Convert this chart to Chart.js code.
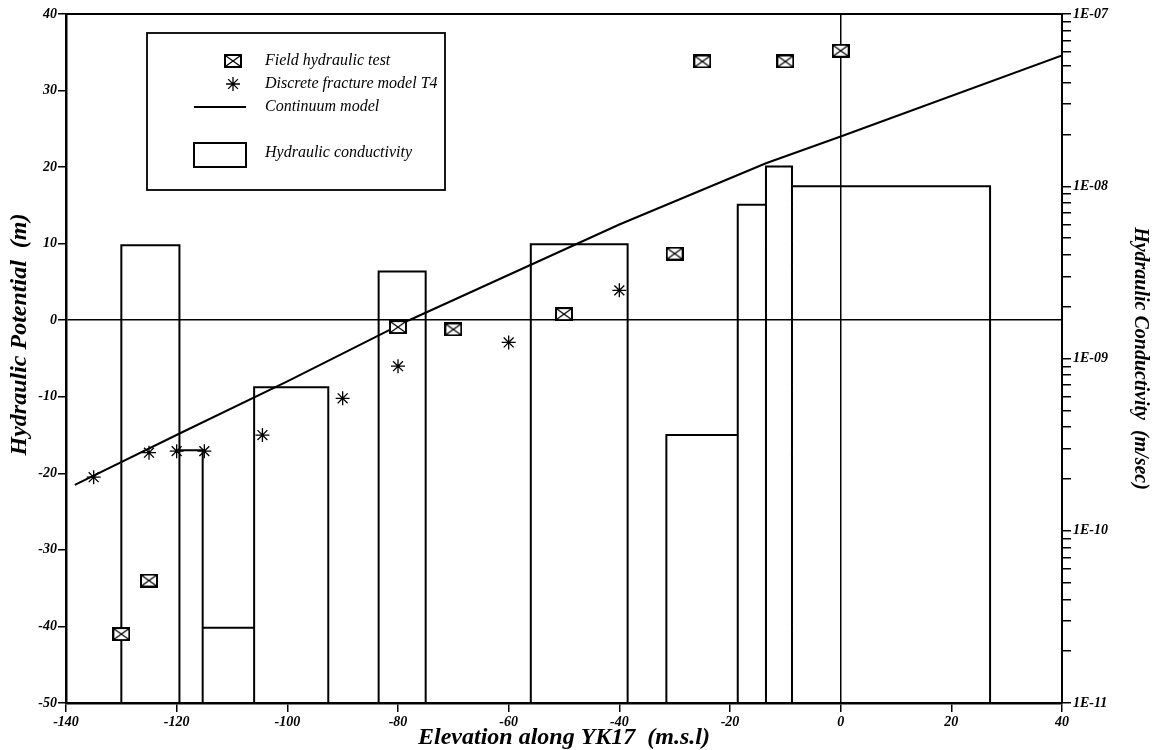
<!DOCTYPE html>
<html>
<head>
<meta charset="utf-8">
<script src="https://cdn.jsdelivr.net/npm/chart.js@4"></script>
<style>
	body{margin:0;background:#fff;}
	#wrap{width:1158px;height:750px;}
</style>
</head>
<body>
<div id="wrap"><canvas id="c" width="1158" height="750"></canvas></div>
<script>
// field hydraulic tests (boxes)
const fieldX=[-130,-125,-80,-70,-50,-30,-25,-10,0];
const fieldY=[-41,-34,-0.9,-1.2,0.8,8.7,33.8,33.8,35.2];

// discrete fracture model T4 (asterisks)
const dfmX=[-135,-125,-120,-115,-104.5,-90,-80,-60,-40];
const dfmY=[-20.5,-17.3,-17.1,-17.1,-15,-10.2,-6,-2.9,3.9];

// continuum model line
const contX=[-138.4,-119.2,-100,-78,-40,-13.5,0,40];
const contY=[-21.5,-14.7,-8,0,12.5,20.5,24,34.6];

// hydraulic conductivity intervals (m/sec) on the right log axis
const condLeft=[-130,-119.5,-115.3,-106,-83.5,-56,-31.5,-18.6,-13.5,-8.8];
const condRight=[-119.5,-115.3,-106,-92.6,-75,-38.5,-18.6,-13.5,-8.8,27];
const condK=[4.55e-9,2.93e-10,2.73e-11,6.8e-10,3.2e-9,4.6e-9,3.6e-10,7.8e-9,1.3e-8,1.0e-8];

const xTicks=[-140,-120,-100,-80,-60,-40,-20,0,20,40];
const kMin=1e-11, kMax=1e-7;

const serif="'Liberation Serif', 'DejaVu Serif', serif";

function boxMark(){
	let c=document.createElement('canvas');
	c.width=18;c.height=14;
	let g=c.getContext('2d');
	g.fillStyle='#fff';
	g.fillRect(1,1,16,12);
	g.strokeStyle='#000';
	g.lineWidth=2;
	g.strokeRect(1,1,16,12);
	g.lineWidth=1.3;
	g.beginPath();
	g.moveTo(2,2);g.lineTo(16,12);
	g.moveTo(16,2);g.lineTo(2,12);
	g.stroke();
	return c;
}
const box=boxMark();

// outline of each conductivity interval, broken by nulls
let condPts=[];
condK.forEach((k,i)=>{
	condPts.push({x:condLeft[i],y:kMin},{x:condLeft[i],y:k},{x:condRight[i],y:k},{x:condRight[i],y:kMin},{x:condRight[i],y:null});
});

const frame={
	id:'frame',
	afterDraw(chart){
		let ctx=chart.ctx, a=chart.chartArea;
		ctx.save();
		ctx.strokeStyle='#000';
		ctx.lineWidth=2;
		ctx.beginPath();
		ctx.moveTo(a.left,a.top);ctx.lineTo(a.right,a.top);
		ctx.stroke();

		// legend box
		let lx=147,ly=33,lw=298,lh=157;
		ctx.lineWidth=1.8;
		ctx.fillStyle='#fff';
		ctx.fillRect(lx,ly,lw,lh);
		ctx.strokeRect(lx,ly,lw,lh);
		ctx.fillStyle='#000';
		ctx.font="italic 16px "+serif;
		ctx.textBaseline='middle';
		let tx=265;
		ctx.drawImage(box,233-9,61-7);
		ctx.fillText('Field hydraulic test',tx,61);

		// asterisk
		let sx=233,sy=84,r=7;
		ctx.lineWidth=1.3;
		ctx.beginPath();
		ctx.moveTo(sx-r,sy);ctx.lineTo(sx+r,sy);
		ctx.moveTo(sx,sy-r);ctx.lineTo(sx,sy+r);
		ctx.moveTo(sx-r*0.7,sy-r*0.7);ctx.lineTo(sx+r*0.7,sy+r*0.7);
		ctx.moveTo(sx+r*0.7,sy-r*0.7);ctx.lineTo(sx-r*0.7,sy+r*0.7);
		ctx.stroke();
		ctx.fillText('Discrete fracture model T4',tx,84);

		ctx.lineWidth=2;
		ctx.beginPath();
		ctx.moveTo(194,107);ctx.lineTo(246,107);
		ctx.stroke();
		ctx.fillText('Continuum model',tx,107);

		ctx.strokeRect(194,143,52,24);
		ctx.fillText('Hydraulic conductivity',tx,153);
		ctx.restore();
	}
};

const tickFont={family:serif,size:14,style:'italic',weight:'bold'};
const titleFont={family:serif,size:24,style:'italic',weight:'bold',lineHeight:1};

new Chart(document.getElementById('c'),{
	type:'line',
	data:{
		datasets:[
			{
				label:'Field hydraulic test',
				data:fieldX.map((x,i)=>({x:x,y:fieldY[i]})),
				showLine:false,
				pointStyle:box,
				yAxisID:'y',
				order:0
			},
			{
				label:'Discrete fracture model T4',
				data:dfmX.map((x,i)=>({x:x,y:dfmY[i]})),
				showLine:false,
				pointStyle:'star',
				pointRadius:7,
				borderColor:'#000',
				pointBorderWidth:1.3,
				yAxisID:'y',
				order:1
			},
			{
				label:'Continuum model',
				data:contX.map((x,i)=>({x:x,y:contY[i]})),
				borderColor:'#000',
				borderWidth:2,
				pointRadius:0,
				tension:0,
				yAxisID:'y',
				order:2
			},
			{
				label:'Hydraulic conductivity',
				data:condPts,
				borderColor:'#000',
				borderWidth:2,
				pointRadius:0,
				spanGaps:false,
				yAxisID:'y2',
				order:3
			}
		]
	},
	options:{
		responsive:false,
		animation:false,
		layout:{padding:{top:14,left:0,right:0,bottom:0}},
		plugins:{legend:{display:false},tooltip:{enabled:false}},
		scales:{
			x:{
				type:'linear',
				min:-140,max:40,
				afterFit:(s)=>{s.height=47;},
				afterBuildTicks:(s)=>{s.ticks=xTicks.map((v)=>({value:v}));},
				border:{color:'#000',width:2.5},
				grid:{
					color:(c)=>(c.tick&&c.tick.value===0?'#000':'rgba(0,0,0,0)'),
					tickColor:'#000',
					lineWidth:1.5,
					tickLength:9
				},
				ticks:{color:'#000',font:tickFont,padding:2,maxRotation:0},
				title:{display:true,text:'Elevation along YK17  (m.s.l)',color:'#000',font:titleFont,padding:{top:0,bottom:0}}
			},
			y:{
				type:'linear',
				position:'left',
				min:-50,max:40,
				afterFit:(s)=>{s.width=66;},
				border:{color:'#000',width:2.5},
				grid:{
					color:(c)=>(c.tick&&c.tick.value===0?'#000':'rgba(0,0,0,0)'),
					tickColor:'#000',
					lineWidth:1.5,
					tickLength:8
				},
				ticks:{stepSize:10,color:'#000',font:tickFont,padding:1},
				// leading spaces nudge the title up, as in the original
				title:{display:true,text:'        Hydraulic Potential  (m)',color:'#000',font:titleFont,padding:{top:8,bottom:0}}
			},
			y2:{
				type:'logarithmic',
				position:'right',
				min:kMin,max:kMax,
				afterFit:(s)=>{s.width=96;},
				afterBuildTicks:(s)=>{
					let t=[];
					for(let e=-11;e<-7;e++){
						for(let m=1;m<10;m++) t.push({value:m*Math.pow(10,e)});
					}
					t.push({value:kMax});
					s.ticks=t;
				},
				border:{color:'#000',width:2},
				grid:{drawOnChartArea:false,tickColor:'#000',tickLength:9,lineWidth:1.5},
				ticks:{
					color:'#000',font:tickFont,padding:2,autoSkip:false,
					callback:(v)=>{
						let e=Math.round(Math.log10(v));
						if(Math.abs(Math.log10(v)-e)>1e-6) return '';
						return '1E-'+String(-e).padStart(2,'0');
					}
				},
				title:{display:true,text:'Hydraulic Conductivity  (m/sec)',color:'#000',font:{family:serif,size:20,style:'italic',weight:'bold',lineHeight:1},padding:{top:8,bottom:0}}
			}
		}
	},
	plugins:[frame]
});
</script>
</body>
</html>
